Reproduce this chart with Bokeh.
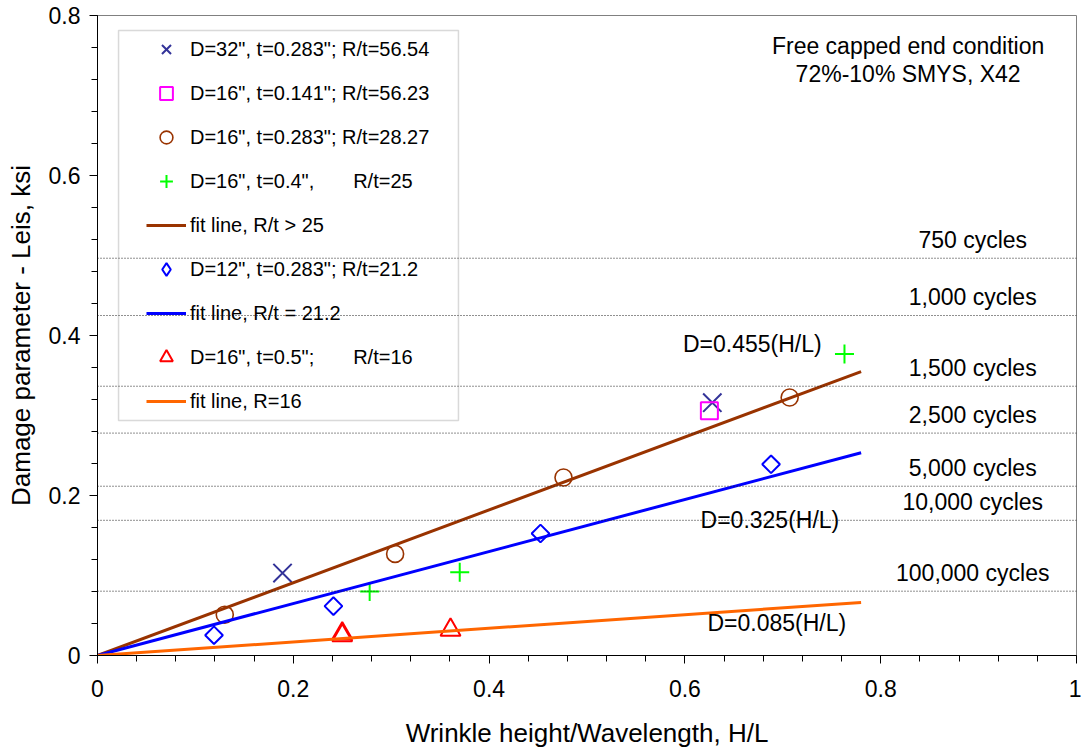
import numpy as np
from bokeh.plotting import figure
from bokeh.models import (Span, FixedTicker, Legend, LegendItem, BoxAnnotation,
                          Range1d, ColumnDataSource)
from bokeh.core.properties import value
from bokeh.embed import file_html
from bokeh.resources import INLINE

FONT = "Liberation Sans"

# ---- data ----
d32_x = [0.189, 0.628]          # D=32", t=0.283"; R/t=56.54
d32_y = [0.103, 0.316]
d16a_x = [0.625]                # D=16", t=0.141"; R/t=56.23
d16a_y = [0.306]
d16b_x = [0.130, 0.304, 0.476, 0.707]   # D=16", t=0.283"; R/t=28.27
d16b_y = [0.051, 0.127, 0.2225, 0.3225]
d16c_x = [0.278, 0.370, 0.763]  # D=16", t=0.4"; R/t=25
d16c_y = [0.080, 0.104, 0.377]
d12_x = [0.119, 0.241, 0.4525, 0.688]   # D=12", t=0.283"; R/t=21.2
d12_y = [0.0254, 0.0617, 0.1525, 0.239]
d16d_x = [0.250, 0.250, 0.3606]  # D=16", t=0.5"; R/t=16
d16d_y = [0.0275, 0.025, 0.032]

fit_x = [0.0, 0.78]
slope_hi = 0.455
slope_mid = 0.325
slope_lo = 0.085

cycle_levels = [0.4966, 0.425, 0.3366, 0.278, 0.2116, 0.169, 0.0804]
cycle_labels = ["750 cycles", "1,000 cycles", "1,500 cycles", "2,500 cycles",
                "5,000 cycles", "10,000 cycles", "100,000 cycles"]

x_ticks = [0, 0.2, 0.4, 0.6, 0.8, 1.0]
x_tick_labels = ["0", "0.2", "0.4", "0.6", "0.8", "1"]
y_ticks = [0, 0.2, 0.4, 0.6, 0.8]
y_tick_labels = ["0", "0.2", "0.4", "0.6", "0.8"]

legend_labels = ['D=32", t=0.283"; R/t=56.54',
                 'D=16", t=0.141"; R/t=56.23',
                 'D=16", t=0.283"; R/t=28.27',
                 'D=16", t=0.4",       R/t=25',
                 'fit line, R/t > 25',
                 'D=12", t=0.283"; R/t=21.2',
                 'fit line, R/t = 21.2',
                 'D=16", t=0.5";       R/t=16',
                 'fit line, R=16']

# ---- figure ----
p = figure(frame_width=979, frame_height=640,
           x_range=Range1d(0, 1), y_range=Range1d(0, 0.8),
           output_backend="svg", toolbar_location=None,
           min_border_left=97, min_border_right=5, min_border_top=15,
           min_border_bottom=96)
p.xgrid.visible = False
p.ygrid.visible = False
p.outline_line_color = "#808080"
p.outline_line_width = 1
p.background_fill_color = "white"
p.border_fill_color = "white"

for ax, ticks, labels in ((p.xaxis[0], x_ticks, x_tick_labels),
                          (p.yaxis[0], y_ticks, y_tick_labels)):
    top = ticks[-1]
    minor = list(np.round(np.arange(0, top + 1e-9, 0.04), 4))
    ax.ticker = FixedTicker(ticks=ticks, minor_ticks=minor)
    ax.major_label_overrides = {t: l for t, l in zip(ticks, labels)}
    ax.axis_line_color = "black"
    ax.major_tick_line_color = "black"
    ax.minor_tick_line_color = "black"
    ax.major_tick_in = 0
    ax.major_tick_out = 8
    ax.minor_tick_in = 0
    ax.minor_tick_out = 6
    ax.major_label_text_font = FONT
    ax.major_label_text_font_size = "23px"
    ax.major_label_text_color = "black"
    ax.axis_label_text_font = FONT
    ax.axis_label_text_font_size = "26px"
    ax.axis_label_text_font_style = "normal"
    ax.axis_label_text_color = "black"

p.xaxis.axis_label = "Wrinkle height/Wavelength, H/L"
p.yaxis.axis_label = "Damage parameter - Leis, ksi"
p.xaxis.major_label_standoff = 16
p.xaxis.axis_label_standoff = 18
p.yaxis.major_label_standoff = 9
p.yaxis.axis_label_standoff = 10

# cycle threshold lines
for lv in cycle_levels:
    p.add_layout(Span(location=lv, dimension="width", line_color="#202020",
                      line_dash="1 2", line_width=1))

p.text(x=[0.894] * len(cycle_levels), y=[v + 0.023 for v in cycle_levels],
       text=cycle_labels, text_align="center", text_baseline="middle",
       text_font=value(FONT), text_font_size=value("23px"), text_color="black")

# markers
r1 = p.scatter(d32_x, d32_y, marker="x", size=26, line_color="#333399",
               line_width=2)
r2 = p.scatter(d16a_x, d16a_y, marker="square", size=17, line_color="#FF00FF",
               fill_color=None, line_width=2)
r3 = p.scatter(d16b_x, d16b_y, marker="circle", size=17, line_color="#993300",
               fill_color=None, line_width=1.6)
r4 = p.scatter(d16c_x, d16c_y, marker="cross", size=19, line_color="#00FF00",
               line_width=2)
r6 = p.scatter(d12_x, d12_y, marker="square", angle=np.pi / 4, size=12.5,
               line_color="#0000FF", fill_color=None, line_width=2)
r6_leg = p.scatter(np.array([np.nan]), np.array([np.nan]), marker="diamond",
                   size=17, line_color="#0000FF", fill_color=None, line_width=2)
r8 = p.scatter(d16d_x, d16d_y, marker="triangle", size=20, line_color="#FF0000",
               fill_color=None, line_width=2)

# fit lines
r5 = p.line(fit_x, [slope_hi * x for x in fit_x], line_color="#993300", line_width=3)
r7 = p.line(fit_x, [slope_mid * x for x in fit_x], line_color="#0000FF", line_width=3)
r9 = p.line(fit_x, [slope_lo * x for x in fit_x], line_color="#FF6600", line_width=3)

# fit equations
p.text(x=[0.598], y=[0.389], text=["D=0.455(H/L)"], text_align="left",
       text_baseline="middle", text_font=value(FONT), text_font_size=value("23px"))
p.text(x=[0.616], y=[0.169], text=["D=0.325(H/L)"], text_align="left",
       text_baseline="middle", text_font=value(FONT), text_font_size=value("23px"))
p.text(x=[0.623], y=[0.041], text=["D=0.085(H/L)"], text_align="left",
       text_baseline="middle", text_font=value(FONT), text_font_size=value("23px"))

# condition text
p.text(x=[0.828, 0.828], y=[0.7625, 0.7275],
       text=["Free capped end condition", "72%-10% SMYS, X42"],
       text_align="center", text_baseline="middle", text_font=value(FONT),
       text_font_size=value("23px"))

# legend
renderers = [r1, r2, r3, r4, r5, r6_leg, r7, r8, r9]
items = [LegendItem(label=l, renderers=[r]) for l, r in zip(legend_labels, renderers)]
legend = Legend(items=items, location=(49, 238), padding=0, margin=0,
                spacing=12, glyph_width=40, glyph_height=32, label_height=32,
                label_standoff=4, label_text_font=FONT, label_text_font_size="20px",
                label_text_color="black",
                border_line_alpha=0, background_fill_alpha=0)
p.add_layout(legend, "center")

p.add_layout(BoxAnnotation(left=0.0215, right=0.3687, bottom=0.29375, top=0.78125,
                           fill_alpha=0, line_color="#808080", line_width=1.5))

open("out.html", "w").write(file_html(p, INLINE))
